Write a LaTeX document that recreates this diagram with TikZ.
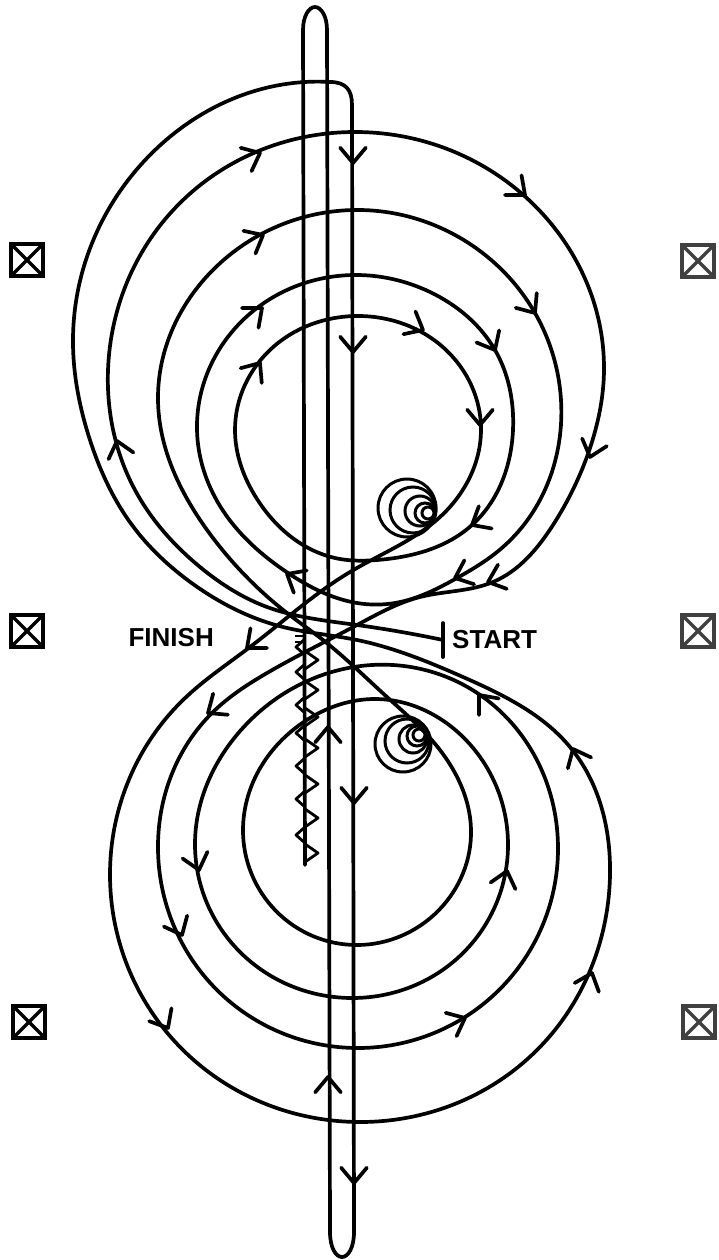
\documentclass[tikz,border=0pt]{standalone}
\usepackage{fontspec}
\usetikzlibrary{hobby}
\setmainfont{Liberation Sans}
\tikzset{
  courseline/.style={line width=3.7pt,line join=round,line cap=round},
  markbox/.style={draw=#1,line width=4.5pt,minimum size=32pt,inner sep=0pt,
    path picture={\draw[#1,line width=3.4pt] (path picture bounding box.north west)--(path picture bounding box.south east)
      (path picture bounding box.north east)--(path picture bounding box.south west);}},
  markbox/.default=black,
  routelabel/.style={inner sep=0pt,font=\fontsize{26}{26}\selectfont\bfseries}
}
\begin{document}
\begin{tikzpicture}[x=1pt,y=-1pt]
\useasboundingbox (0,0) rectangle (719,1260);
\node[markbox] (boxa) at (27,260) {};
\node[markbox] (boxb) at (27,631) {};
\node[markbox] (boxc) at (29,1022) {};
\node[markbox=black!75] (boxd) at (698,261) {};
\node[markbox=black!75] (boxe) at (698,631) {};
\node[markbox=black!75] (boxf) at (699,1022) {};
\node[routelabel,anchor=east] (finishlabel) at (214,638) {FINISH};
\node[routelabel,anchor=west] (startlabel) at (452,640) {START};
\coordinate (startbar) at (443,640);
\coordinate (loopend) at (330,82);
\draw[courseline] (443,623)--(443,657);
\draw[courseline,use Hobby shortcut] (startbar) .. (357,625) .. (267,607) .. (200,567) .. (135,490) .. (108,370) .. (181,202) .. (356,132) .. (531,202) .. (604,370) .. (589,451) .. (553,525) .. (493,582)
  .. (420,597) .. (357,625) .. (267,673) .. (213,712) .. (158,850) .. (217,990) .. (358,1048) .. (499,990) .. (558,850) .. (483,697) .. (393,665) .. (303,683) .. (241,730)
  .. (195,845) .. (241,953) .. (352,998) .. (463,953) .. (508,845) .. (463,737) .. (375,699) .. (310,718) .. (243,830) .. (276,911) .. (357,945) .. (438,911) .. (471,830) .. (430,738)
  .. (387,697) .. (323,640) .. (287,613) .. (210,534) .. (158,400) .. (217,266) .. (360,210) .. (455,235) .. (535,313) .. (561,400) .. (503,547) .. (457,578) .. (395,603) .. (357,603) .. (288,573)
  .. (220,506) .. (197,430) .. (243,320) .. (355,275) .. (430,292) .. (495,350) .. (513,430) .. (472,525) .. (377,560) .. (340,559) .. (257,499) .. (235,430) .. (271,349) .. (358,316)
  .. (445,349) .. (481,430) .. (440,517) .. (350,572) .. (250,647) .. (183,700) .. (110,875) .. (183,1050) .. (360,1122) .. (537,1050) .. (610,875) .. (570,747) .. (463,677) .. (357,640)
  .. (283,627) .. (193,584) .. (132,525) .. (89,437) .. (73,338) .. (150,155) .. (305,82) .. (loopend);
\draw[courseline] (loopend) .. controls (346,82) and (352,90) .. (352,105) -- (354,1232) .. controls (354,1248) and (348,1257) .. (342,1257)
  .. controls (336,1257) and (330,1248) .. (330,1232) -- (327,30) .. controls (327,16) and (321,7) .. (315,7)
  .. controls (309,7) and (303,16) .. (303,30) -- (305,865);
\foreach \x/\y/\a in {353/163/90,353/352/90,260/153/-25,525/195/40,590/457/107,117/441/-105,263/235/-28,535/313/55,262/308/-40,495/350/62,
  260/363/-55,423/330/28,480/425/90,472/525/150,455/578/158,488/582/160,287/574/-150,247/648/140,208/713/145,199/870/75,182/935/65,168/1028/60,
  328/727/-90,328/1077/-90,354/803/90,354/1183/90,465/1018/-25,592/973/-70,507/871/-75,573/749/-115,479/695/-130}
  \draw[courseline] (\x,\y) ++(\a+140:20) -- (\x,\y) -- ++(\a-140:20);
\foreach \y in {853,818,784,748,717,690,660}
  \draw[line width=2.8pt,line join=round] (305,\y-9) -- (318,\y) -- (305,\y+9);
\foreach \y in {835,799,766,733,705,672,647}
  \draw[line width=2.8pt,line join=round] (305,\y-8) -- (296,\y) -- (305,\y+8);
\draw[line width=2.8pt] (295,636)--(305,636) (295,642)--(305,642);
\foreach \x/\y/\r in {407/508/29,413/510/23,420/511/15,425/513/10,428/513/6}
  \draw[line width=3pt] (\x,\y) circle (\r);
\foreach \x/\y/\r in {403/744/28,407/741/22,413/739/14,417/736/10,419/735/6}
  \draw[line width=3pt] (\x,\y) circle (\r);
\end{tikzpicture}
\end{document}
